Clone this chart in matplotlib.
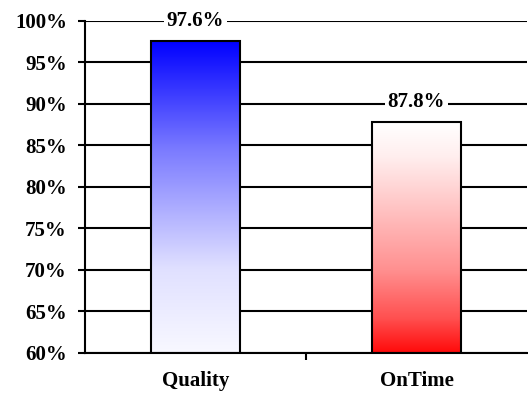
import numpy as np
import matplotlib
matplotlib.use("Agg")
from matplotlib import pyplot as plt
from matplotlib.colors import LinearSegmentedColormap
from matplotlib.ticker import FuncFormatter

#Chart data
categories = ["Quality", "OnTime"]
values = [97.6, 87.8]
labels = ["97.6%", "87.8%"]
yticks = [60, 65, 70, 75, 80, 85, 90, 95, 100]

#Gradient stops for each bar, (fraction from top of bar, colour)
gradients = [
    [(0.0, "#0000FF"), (0.35, "#7B7BFF"), (0.73, "#E0E0FF"), (1.0, "#F8F8FF")],
    [(0.0, "#FFFFFF"), (0.15, "#FFEEEE"), (0.64, "#FF9090"), (0.85, "#FF5050"), (1.0, "#FF0A0A")],
]

plt.rcParams['font.family'] = ['Liberation Serif', 'DejaVu Serif']
plt.rcParams['font.weight'] = 'bold'

fig = plt.figure(figsize=(5.28, 3.93), dpi=100)
ax = fig.add_axes([0.161, 0.102, 0.837, 0.845])

ax.set_xlim(-0.5, 1.5)
ax.set_ylim(60, 100)

#Gridlines drawn in black behind the bars
for t in yticks:
    ax.axhline(t, color="black", lw=1.5, zorder=1)

width = 0.4
for i, (val, lab) in enumerate(zip(values, labels)):
    stops = sorted([(1 - p, c) for p, c in gradients[i]]) #colormap runs from the bottom up
    cmap = LinearSegmentedColormap.from_list("g%d" % i, stops)
    grad = np.linspace(0, 1, 256).reshape(-1, 1)
    x0, x1 = i - width / 2, i + width / 2
    im = ax.imshow(grad, cmap=cmap, origin="lower", aspect="auto",
                   extent=[x0, x1, 60, val], zorder=2)
    bar = ax.bar(i, val - 60, bottom=60, width=width, facecolor="none",
                 edgecolor="black", lw=1.5, zorder=3)[0]
    im.set_clip_path(bar)
    ax.annotate(lab, (i, val), xytext=(0, 14.5), textcoords="offset points",
                ha="center", va="center", fontsize=15, fontweight="bold",
                bbox=dict(facecolor="white", edgecolor="none", pad=2), zorder=4)

ax.set_xlim(-0.5, 1.5)
ax.set_ylim(60, 100)
ax.set_yticks(yticks)
ax.yaxis.set_major_formatter(FuncFormatter(lambda v, p: "%d%%" % v))
ax.set_xticks([0, 1])
ax.set_xticklabels(categories)
ax.set_xticks([0.5], minor=True)
ax.tick_params(axis="x", which="major", length=0, pad=13, labelsize=15)
ax.tick_params(axis="x", which="minor", length=5, width=1.5)
ax.tick_params(axis="y", length=5, width=1.5, labelsize=15, pad=8)
for s in ["top", "right"]:
    ax.spines[s].set_visible(False)
ax.spines["left"].set_linewidth(1.5)
ax.spines["bottom"].set_linewidth(1.5)

fig.savefig("out.png", dpi=100)
